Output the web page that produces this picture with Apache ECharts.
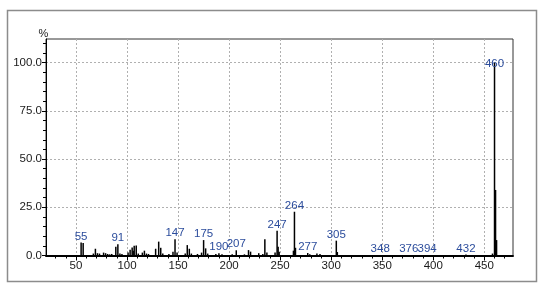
<!DOCTYPE html>
<html><head><meta charset="utf-8">
<script src="https://cdn.jsdelivr.net/npm/echarts@6/dist/echarts.min.js"></script>
<style>html,body{margin:0;padding:0;background:#fff}#c{width:548px;height:290px}</style>
</head><body><div id="c"></div>
<script>
// m/z values of peaks
const mz = [55,57,67,69,71,73,77,79,81,83,85,89,91,93,95,101,103,105,106,107,109,111,115,117,119,121,128,131,133,135,141,145,147,149,157,159,161,163,169,173,175,177,179,187,190,193,203,207,215,219,221,229,233,235,237,245,247,248,249,263,264,265,277,279,286,289,305,306,348,376,394,432,458,460,461,462];
// relative intensity (%)
const intensity = [6.8,6.5,1.0,3.5,1.2,1.0,1.5,1.2,0.8,0.6,0.8,4.6,5.8,1.0,0.8,1.5,3.0,4.2,2.5,5.0,5.2,1.0,1.5,2.5,1.0,0.8,3.5,7.2,4.0,1.0,0.8,2.0,8.4,1.5,1.0,5.4,3.5,1.0,0.8,1.5,8.0,3.7,1.0,0.8,1.2,0.6,0.6,2.7,0.6,2.8,2.0,1.2,0.8,8.4,1.5,1.5,12.9,4.5,2.0,2.5,22.7,4.0,1.3,0.6,1.0,0.8,7.7,1.8,0.3,0.3,0.3,0.5,1.0,100,34,8];
// peaks with a text label
const labeledPeaks = [55,91,147,175,190,207,247,264,277,305,348,376,394,432,460];
// axis ticks
const xLabelValues = [50,100,150,200,250,300,350,400,450];
const xMinorTicks = [30,40,60,70,80,90,110,120,130,140,160,170,180,190,210,220,230,240,260,270,280,290,310,320,330,340,360,370,380,390,410,420,430,440,460,470];
const yLabelValues = [0,25,50,75,100];
const yMinorTicks = [5,10,15,20,30,35,40,45,55,60,65,70,80,85,90,95,105,110];

const FONT = "'Liberation Sans',Arial,sans-serif";
const chart = echarts.init(document.getElementById('c'), null, {renderer: 'canvas'});
const maxI = Math.max(...intensity);
const data = mz.map((m, i) => {
  const item = {value: [m, intensity[i]]};
  if (intensity[i] === maxI) item.label = {offset: [0, 7]};
  return item;
});
const X_MIN = 20.6, X_MAX = 478.1, Y_MAX = 112.3;
chart.setOption({
  animation: false,
  backgroundColor: '#fff',
  graphic: [{type: 'rect', shape: {x: 7.5, y: 10.5, width: 529, height: 271}, style: {fill: 'none', stroke: '#8c8c8c', lineWidth: 1.5}, silent: true}],
  grid: {left: 46, right: 35, top: 39, bottom: 34.5, show: true, borderColor: '#333', borderWidth: 1, backgroundColor: 'transparent'},
  xAxis: [{
    type: 'value', min: X_MIN, max: X_MAX, position: 'bottom',
    axisLine: {show: true, lineStyle: {color: '#000', width: 2}},
    axisTick: {show: true, length: 5, customValues: xLabelValues, lineStyle: {color: '#000'}},
    axisLabel: {customValues: xLabelValues, color: '#1a1a1a', fontSize: 11.5, fontFamily: FONT, margin: 4},
    splitLine: {show: true, lineStyle: {color: '#b0b0b0', type: [2, 2], width: 1}}
  }, {
    type: 'value', min: X_MIN, max: X_MAX, position: 'bottom',
    axisLine: {show: false},
    axisTick: {show: true, length: 3, customValues: xMinorTicks, lineStyle: {color: '#000'}},
    axisLabel: {show: false},
    splitLine: {show: false}
  }],
  yAxis: [{
    type: 'value', min: 0, max: Y_MAX, position: 'left',
    name: '%', nameLocation: 'end', nameGap: 0,
    nameTextStyle: {color: '#1a1a1a', fontSize: 11, fontFamily: FONT, padding: [0, 5, 0, 0]},
    axisLine: {show: true, lineStyle: {color: '#000', width: 1}},
    axisTick: {show: true, length: 4, customValues: yLabelValues, lineStyle: {color: '#000'}},
    axisLabel: {customValues: yLabelValues, color: '#1a1a1a', fontSize: 11.5, fontFamily: FONT, margin: 4, formatter: v => v.toFixed(1)},
    splitLine: {show: true, lineStyle: {color: '#b0b0b0', type: [2, 2], width: 1}}
  }, {
    type: 'value', min: 0, max: Y_MAX, position: 'left',
    axisLine: {show: false},
    axisTick: {show: true, length: 3, customValues: yMinorTicks, lineStyle: {color: '#000'}},
    axisLabel: {show: false},
    splitLine: {show: false}
  }],
  series: [{
    type: 'bar', xAxisIndex: 0, yAxisIndex: 0,
    barWidth: 1.5,
    itemStyle: {color: '#000'},
    data: data,
    label: {
      show: true, position: 'top', distance: 0,
      color: '#2b4c9c', fontSize: 11.5, fontFamily: FONT,
      formatter: p => labeledPeaks.includes(p.value[0]) ? String(p.value[0]) : ''
    }
  }]
});
</script></body></html>
